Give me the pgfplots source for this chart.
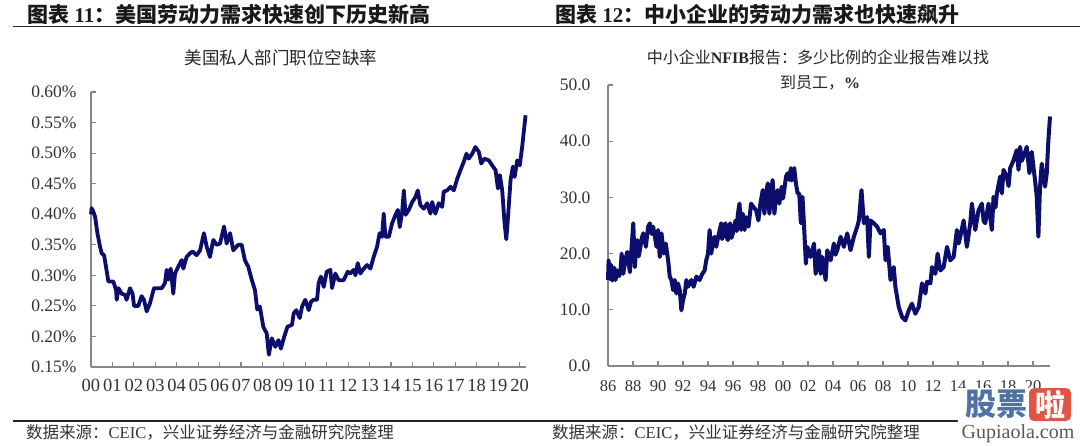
\documentclass[border=0pt]{standalone}
\usepackage{fontspec}
\setmainfont{Liberation Serif}
\newfontfamily\cjk{Noto Sans CJK SC}
\usepackage{pgfplots}
\pgfplotsset{compat=1.18}
\definecolor{navy}{RGB}{12,14,108}
\definecolor{axgray}{RGB}{134,134,134}
\definecolor{txt}{RGB}{50,50,50}
\definecolor{wmblue}{RGB}{78,114,164}
\definecolor{wmred}{RGB}{222,86,70}
\pgfplotsset{mystyle/.style={
  scale only axis, anchor=south west, clip=false,
  axis lines=left, axis line style={-, draw=axgray, line width=1.5pt},
  tick align=inside, major tick length=5pt,
  tick style={draw=axgray, line width=1.2pt},
  ticklabel style={text=txt},
}}
\begin{document}
\begin{tikzpicture}[x=1pt,y=-1pt]
\useasboundingbox (0,0) rectangle (1080,445);
% headers
\node[anchor=west, inner sep=0pt, text=black!90] at (27,14) {\fontsize{21}{24}\selectfont\bfseries{\cjk 图表} 11{\cjk ：美国劳动力需求快速创下历史新高}};
\node[anchor=west, inner sep=0pt, text=black!90] at (555,14) {\fontsize{21}{24}\selectfont\bfseries{\cjk 图表} 12{\cjk ：中小企业的劳动力需求也快速飙升}};
\draw[line width=1.3pt, black!85] (13,26.5) -- (1080,26.5);
% chart titles
\node[text=black!85] at (281,58) {\fontsize{17.5}{20}\selectfont\cjk 美国私人部门职位空缺率};
\node[text=black!85] at (818,57) {\fontsize{16}{19}\selectfont{\cjk 中小企业}\textbf{NFIB}{\cjk 报告：多少比例的企业报告难以找}};
\node[text=black!85] at (820,83) {\fontsize{16}{19}\selectfont{\cjk 到员工，}\textbf{\%}};

\begin{axis}[mystyle, at={(91pt,-367pt)}, width=435pt, height=275pt,
  xmin=0, xmax=20.3, ymin=0.15, ymax=0.60,
  xtick={0,...,20},
  xticklabels={00,01,02,03,04,05,06,07,08,09,10,11,12,13,14,15,16,17,18,19,20},
  ytick={0.15,0.20,0.25,0.30,0.35,0.40,0.45,0.50,0.55,0.60},
  yticklabels={0.15\%,0.20\%,0.25\%,0.30\%,0.35\%,0.40\%,0.45\%,0.50\%,0.55\%,0.60\%},
  xticklabel style={font=\fontsize{18.5}{20}\selectfont, yshift=-8.5pt},
  yticklabel style={font=\fontsize{17.5}{20}\selectfont, xshift=-11pt},
]
\addplot[navy, line width=3.8pt, line join=round] coordinates {
(0.00,0.400)(0.03,0.410)(0.11,0.404)(0.19,0.396)(0.30,0.369)(0.42,0.347)(0.50,0.336)(0.61,0.333)(0.70,0.314)(0.81,0.290)
(1.04,0.290)(1.17,0.276)(1.20,0.260)(1.28,0.279)(1.43,0.270)(1.59,0.268)(1.66,0.260)(1.82,0.279)(1.94,0.270)(2.01,0.250)
(2.21,0.250)(2.36,0.266)(2.47,0.260)(2.60,0.241)(2.75,0.254)(2.94,0.279)(3.30,0.279)(3.45,0.287)(3.53,0.309)(3.61,0.293)
(3.72,0.311)(3.84,0.270)(3.92,0.303)(4.07,0.314)(4.23,0.325)(4.31,0.311)(4.46,0.330)(4.62,0.336)(4.74,0.339)(4.93,0.333)
(5.09,0.341)(5.27,0.369)(5.40,0.347)(5.55,0.330)(5.71,0.358)(5.86,0.350)(6.02,0.352)(6.21,0.380)(6.33,0.352)(6.49,0.369)
(6.64,0.341)(6.87,0.350)(7.03,0.350)(7.18,0.325)(7.34,0.314)(7.50,0.293)(7.65,0.276)(7.76,0.244)(7.88,0.249)(8.04,0.216)
(8.20,0.205)(8.30,0.170)(8.44,0.197)(8.60,0.183)(8.75,0.194)(8.86,0.180)(9.02,0.200)(9.17,0.216)(9.38,0.219)(9.46,0.238)
(9.58,0.243)(9.74,0.230)(9.85,0.249)(10.00,0.260)(10.16,0.243)(10.27,0.257)(10.39,0.260)(10.55,0.260)(10.62,0.287)(10.73,0.298)
(10.86,0.281)(11.00,0.306)(11.17,0.309)(11.25,0.279)(11.40,0.303)(11.56,0.292)(11.79,0.292)(11.98,0.306)(12.10,0.303)(12.26,0.309)
(12.34,0.300)(12.45,0.320)(12.57,0.303)(12.73,0.311)(12.88,0.317)(13.04,0.311)(13.19,0.330)(13.35,0.347)(13.47,0.369)(13.58,0.363)
(13.66,0.401)(13.74,0.363)(13.90,0.363)(14.05,0.385)(14.21,0.399)(14.32,0.407)(14.41,0.379)(14.52,0.404)(14.60,0.439)(14.68,0.399)
(14.83,0.407)(14.99,0.420)(15.14,0.428)(15.25,0.439)(15.37,0.415)(15.53,0.409)(15.69,0.418)(15.84,0.401)(15.92,0.420)(16.07,0.401)
(16.23,0.418)(16.39,0.412)(16.46,0.437)(16.62,0.439)(16.78,0.445)(16.93,0.439)(17.09,0.458)(17.24,0.472)(17.40,0.486)(17.52,0.499)
(17.63,0.491)(17.79,0.499)(17.94,0.510)(18.10,0.502)(18.21,0.483)(18.36,0.491)(18.57,0.488)(18.72,0.480)(18.88,0.472)(18.99,0.442)
(19.08,0.464)(19.19,0.439)(19.30,0.385)(19.38,0.359)(19.45,0.390)(19.58,0.456)(19.69,0.478)(19.77,0.461)(19.89,0.488)(20.01,0.480)
(20.12,0.510)(20.28,0.562)
};
\end{axis}

\begin{axis}[mystyle, at={(608pt,-366pt)}, width=442pt, height=281pt,
  xmin=1986, xmax=2021.36, ymin=0, ymax=50,
  xtick={1986,1988,...,2020},
  xticklabels={86,88,90,92,94,96,98,00,02,04,06,08,10,12,14,16,18,20},
  ytick={0,10,20,30,40,50},
  yticklabels={0.0,10.0,20.0,30.0,40.0,50.0},
  xticklabel style={font=\fontsize{16.5}{19}\selectfont, yshift=-11pt},
  yticklabel style={font=\fontsize{17.5}{20}\selectfont, xshift=-14pt},
]
\addplot[navy, line width=4pt, line join=round] coordinates {
(1986.00,15.3)(1986.05,18.8)(1986.15,15.5)(1986.25,18.0)(1986.35,15.2)(1986.50,17.5)(1986.60,15.3)(1986.75,17.0)(1986.90,16.0)(1987.00,16.8)
(1987.09,20.0)(1987.22,16.4)(1987.40,19.0)(1987.54,20.3)(1987.75,16.7)(1987.89,21.2)(1988.02,25.4)(1988.15,17.6)(1988.25,21.0)(1988.34,22.4)(1988.45,19.5)(1988.55,20.6)(1988.70,22.8)(1988.82,23.6)
(1989.03,21.2)(1989.21,24.8)(1989.35,25.4)(1989.50,23.5)(1989.61,24.8)(1989.75,23.0)(1989.88,21.2)(1990.01,24.2)(1990.14,19.4)(1990.28,23.6)(1990.46,20.0)
(1990.62,21.8)(1990.81,18.8)(1990.94,15.9)(1991.07,15.3)(1991.21,13.5)(1991.34,15.3)(1991.47,12.9)(1991.60,14.7)(1991.74,13.5)(1991.87,9.9)
(1992.00,11.7)(1992.14,12.9)(1992.27,15.3)(1992.40,14.1)(1992.67,15.3)(1992.85,14.1)(1993.07,15.9)(1993.33,15.3)(1993.54,16.4)(1993.73,17.0)
(1993.86,18.8)(1994.00,20.0)(1994.13,24.2)(1994.26,20.0)(1994.40,22.0)(1994.53,23.0)(1994.66,21.2)(1994.87,23.6)(1995.06,25.4)(1995.12,22.6)(1995.19,23.0)(1995.30,24.8)(1995.40,25.4)
(1995.50,23.0)(1995.59,22.4)(1995.77,25.4)(1995.88,22.8)(1995.99,23.6)(1996.20,25.9)(1996.30,24.0)(1996.39,27.1)(1996.52,28.9)(1996.65,24.2)(1996.78,27.1)(1996.92,24.2)(1997.05,26.5)
(1997.24,24.8)(1997.45,28.9)(1997.63,28.3)(1997.85,27.7)(1998.03,25.9)(1998.19,28.9)(1998.38,31.3)(1998.51,27.1)(1998.64,30.7)(1998.78,32.5)
(1998.91,27.1)(1999.04,30.7)(1999.17,33.1)(1999.31,27.1)(1999.44,30.1)(1999.57,31.3)(1999.71,28.9)(1999.89,31.9)(2000.00,29.8)(2000.10,31.3)(2000.24,33.7)
(2000.37,34.3)(2000.50,33.1)(2000.63,35.2)(2000.70,33.0)(2000.77,34.3)(2000.90,35.2)(2001.03,32.5)(2001.17,30.7)(2001.30,30.7)(2001.43,25.4)(2001.56,30.1)
(2001.70,24.2)(2001.83,18.2)(2001.95,21.2)(2002.21,19.4)(2002.48,21.8)(2002.61,16.4)(2002.88,20.6)(2003.01,16.4)(2003.14,19.4)(2003.41,15.3)
(2003.54,20.6)(2003.81,18.8)(2004.07,21.8)(2004.20,19.8)(2004.34,20.6)(2004.61,23.0)(2004.87,21.2)(2005.14,23.6)(2005.40,20.6)(2005.67,23.0)(2005.94,24.8)
(2006.07,25.9)(2006.28,31.3)(2006.47,25.4)(2006.73,26.5)(2006.87,19.4)(2007.00,25.9)(2007.27,25.4)(2007.53,24.8)(2007.80,23.6)(2008.06,24.2)
(2008.20,18.8)(2008.38,21.2)(2008.60,15.3)(2008.86,17.6)(2008.99,14.1)(2009.26,10.5)(2009.53,8.7)(2009.79,8.1)(2010.06,9.9)(2010.32,11.1)
(2010.59,9.3)(2010.86,10.5)(2011.12,14.7)(2011.39,12.9)(2011.52,15.0)(2011.79,14.7)(2011.92,17.6)(2012.19,16.4)(2012.37,20.0)(2012.59,17.0)
(2012.85,17.6)(2013.12,21.2)(2013.38,18.8)(2013.65,19.4)(2013.91,24.2)(2014.05,21.8)(2014.18,23.0)(2014.45,25.9)(2014.71,21.2)(2014.98,25.4)(2015.11,28.9)
(2015.38,24.2)(2015.64,27.7)(2015.91,28.9)(2016.05,25.8)(2016.18,25.4)(2016.44,28.9)(2016.71,24.2)(2016.84,30.1)(2017.00,28.2)(2017.11,30.7)(2017.37,33.7)(2017.51,30.7)
(2017.64,34.9)(2017.90,33.7)(2018.05,32.0)(2018.17,35.2)(2018.44,36.6)(2018.70,38.4)(2018.84,34.9)(2018.97,39.0)(2019.10,36.5)(2019.23,37.2)(2019.50,39.0)(2019.71,34.3)
(2019.90,38.1)(2020.03,35.5)(2020.16,33.1)(2020.30,30.1)(2020.43,23.0)(2020.56,31.9)(2020.70,36.0)(2020.83,33.7)(2020.96,31.9)(2021.10,34.3)
(2021.23,40.2)(2021.36,44.4)
};
\end{axis}

% footer
\draw[line width=1.3pt, black!85] (13,421) -- (965,421);
\node[anchor=west, inner sep=0pt, text=black!80] at (26,432) {\fontsize{16.5}{19}\selectfont{\cjk 数据来源：}CEIC{\cjk ，兴业证券经济与金融研究院整理}};
\node[anchor=west, inner sep=0pt, text=black!80] at (552,432) {\fontsize{16.5}{19}\selectfont{\cjk 数据来源：}CEIC{\cjk ，兴业证券经济与金融研究院整理}};
% watermark
\fill[white] (958,388) rectangle (1080,445);
\node[text=wmblue, inner sep=0pt] at (996,404) {\fontsize{31}{33}\selectfont\cjk\bfseries 股票};
\fill[wmred, rounded corners=5pt] (1029,388) rectangle (1071,421);
\node[text=white, inner sep=0pt] at (1050,404.5) {\fontsize{30}{32}\selectfont\cjk\bfseries 啦};
\node[text=black!65, inner sep=0pt] at (1018,434) {\fontsize{20}{22}\selectfont Gupiaola.com};
\end{tikzpicture}
\end{document}
